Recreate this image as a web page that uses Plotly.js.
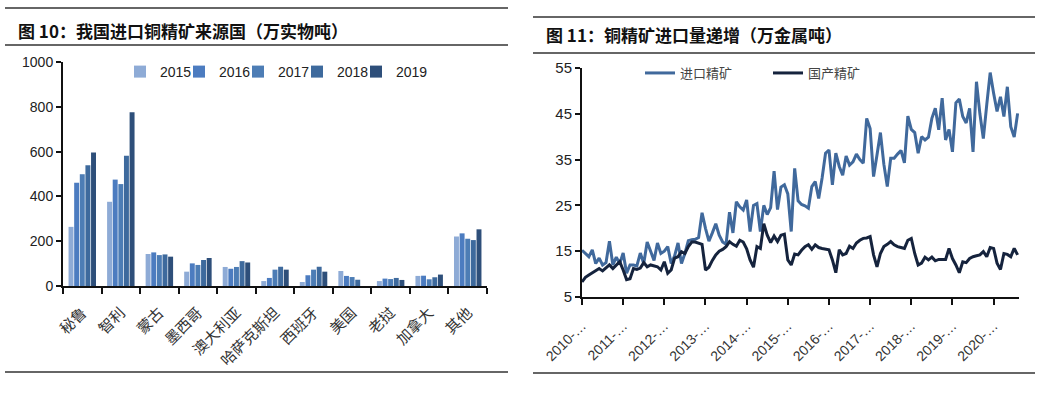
<!DOCTYPE html>
<html>
<head>
<meta charset="utf-8">
<script src="https://cdn.plot.ly/plotly-3.0.1.min.js"></script>
<style>html,body{margin:0;padding:0;background:#fff;}#chart{width:1043px;height:393px;}</style>
</head>
<body>
<div id="chart"></div>
<script>
// ---------- Figure 10 data (万实物吨) ----------
const countries = ['秘鲁','智利','蒙古','墨西哥','澳大利亚','哈萨克斯坦','西班牙','美国','老挝','加拿大','其他'];
const years = ['2015','2016','2017','2018','2019'];
const v2015 = [264,376,143,64,85,22,18,67,22,45,221];
const v2016 = [461,475,150,101,77,36,48,45,33,46,235];
const v2017 = [499,455,138,94,85,73,73,40,31,30,211];
const v2018 = [539,582,141,116,111,86,86,28,36,39,205];
const v2019 = [596,776,131,125,105,73,64,0,27,51,253];

// ---------- Figure 11 data (万金属吨), monthly 2010-01 .. 2020-08 ----------
const importConc = [
15.2,14.6,13.8,15.3,12.3,13.5,12.0,12.5,17.2,12.0,13.7,12.3,
14.6,10.2,12.0,12.0,11.8,14.6,12.3,17.0,15.0,13.0,16.8,14.5,
15.0,16.0,12.3,14.0,16.8,12.3,14.5,17.3,17.5,17.6,18.0,23.4,
20.0,17.2,19.0,21.0,18.5,17.0,16.5,23.5,19.0,25.8,24.7,24.0,
26.2,19.3,25.0,25.4,19.3,25.0,23.0,24.5,32.5,24.1,29.0,29.5,
27.5,19.3,33.1,26.0,25.2,24.9,24.4,29.1,30.2,26.5,31.0,36.4,
37.1,29.5,36.4,33.5,31.6,35.8,33.8,34.5,36.2,35.0,34.2,44.0,
41.8,31.3,36.0,40.9,34.0,29.1,35.3,35.3,36.2,37.0,34.3,44.5,
41.6,40.9,36.4,40.0,39.3,39.9,44.0,46.2,41.5,48.4,39.3,41.6,
36.7,47.4,48.2,44.4,43.0,46.2,36.7,52.0,45.0,39.6,47.0,54.0,
49.5,45.5,48.7,44.4,50.9,42.2,39.9,45.1];
const domesticConc = [
8.3,9.3,9.8,10.3,10.8,11.2,10.7,11.3,12.0,11.2,12.0,12.7,
10.9,8.8,9.0,11.2,11.0,11.3,12.5,11.6,12.0,11.8,11.6,10.9,
12.7,10.2,10.9,13.5,13.8,14.9,14.5,16.0,17.0,17.0,16.8,16.5,
10.9,11.5,13.0,14.2,15.0,15.4,16.0,17.1,16.5,16.1,17.4,17.0,
15.5,13.1,11.5,16.0,15.6,21.0,18.5,16.9,18.3,17.1,18.5,18.7,
13.1,12.0,14.4,14.2,15.2,16.0,16.4,15.4,16.4,15.8,15.6,15.5,
15.3,13.1,10.3,15.3,14.2,14.5,16.1,15.6,16.8,17.4,17.8,17.9,
18.2,14.2,11.6,14.5,16.0,16.5,17.1,16.4,16.0,15.8,15.6,17.4,
17.8,14.5,12.0,12.4,13.7,13.1,13.7,12.9,13.2,13.2,13.2,15.6,
13.4,12.0,10.3,12.7,12.5,13.4,13.8,14.0,14.2,14.9,13.8,15.8,
15.6,12.4,11.0,14.5,14.3,13.8,15.6,14.2];
const yearTicks = ['2010','2011','2012','2013','2014','2015','2016','2017','2018','2019','2020'];

// month category labels
const months = [];
for (let y = 2010; y <= 2020; y++) {
  for (let m = 1; m <= 12; m++) {
    if (months.length < importConc.length) months.push(y + '-' + String(m).padStart(2,'0'));
  }
}

const W = 1043, H = 393;
const px = x => x / W;
const py = y => 1 - y / H;

const barSeries = [v2015, v2016, v2017, v2018, v2019];
const barColors = ['#8eabd6', '#4c7cc0', '#4d7db5', '#3e6a9d', '#2e4f7a'];
const traces = barSeries.map((vals, i) => ({
  type: 'bar', x: countries, y: vals, name: years[i],
  marker: {color: barColors[i], line: {width: 0}},
  xaxis: 'x', yaxis: 'y', legend: 'legend', hoverinfo: 'none'
}));
// invisible spacer entry so the last legend label is not clipped
traces.push({
  type: 'scatter', mode: 'markers', x: [null], y: [null], name: '\u00a0',
  marker: {color: 'rgba(255,255,255,0)', size: 1, line: {width: 0, color: 'rgba(255,255,255,0)'}},
  xaxis: 'x', yaxis: 'y', legend: 'legend', hoverinfo: 'none'
});
traces.push({
  type: 'scatter', mode: 'lines', x: months, y: importConc, name: '进口精矿',
  line: {color: '#40699c', width: 3}, xaxis: 'x2', yaxis: 'y2', legend: 'legend2', hoverinfo: 'none'
});
traces.push({
  type: 'scatter', mode: 'lines', x: months, y: domesticConc, name: '国产精矿',
  line: {color: '#15233d', width: 3}, xaxis: 'x2', yaxis: 'y2', legend: 'legend2', hoverinfo: 'none'
});

const axisCommon = {
  showgrid: false, zeroline: false, showline: true, linecolor: '#111', linewidth: 2,
  ticks: 'outside', tickcolor: '#111', tickwidth: 2, fixedrange: true
};
const numFont = {family: 'Arial, "Liberation Sans", sans-serif', size: 14, color: '#222'};
const cjk = '"Noto Sans CJK SC", "Noto Sans", sans-serif';

const line = (x0, x1, y) => ({type: 'line', xref: 'paper', yref: 'paper', x0: px(x0), x1: px(x1), y0: py(y), y1: py(y), line: {color: '#333', width: 1.5}});

const layout = {
  width: W, height: H, margin: {l: 0, r: 0, t: 0, b: 0},
  paper_bgcolor: '#fff', plot_bgcolor: '#fff',
  font: numFont, showlegend: true,
  barmode: 'group', bargap: 0.27, bargroupgap: 0.12,
  xaxis: Object.assign({}, axisCommon, {
    domain: [px(63), px(487)], anchor: 'y', type: 'category', tickson: 'boundaries',
    ticklen: 6, tickangle: -45, ticklabelstandoff: 10, tickfont: {family: cjk, size: 15, color: '#333'}
  }),
  yaxis: Object.assign({}, axisCommon, {
    domain: [py(286), py(62)], anchor: 'x', range: [0, 1000], dtick: 200, ticklen: 5,
    tickfont: {family: numFont.family, size: 14, color: '#222'}
  }),
  xaxis2: Object.assign({}, axisCommon, {
    domain: [px(582), px(1019)], anchor: 'y2', type: 'category', range: [0, 127.4],
    tickmode: 'array', tickvals: yearTicks.map(y => y + '-01'), ticktext: yearTicks.map(y => y + '-…'),
    ticklen: 6, tickangle: -45, ticklabelstandoff: 7, tickfont: {family: numFont.family, size: 14, color: '#333'}
  }),
  yaxis2: Object.assign({}, axisCommon, {
    domain: [py(297), py(68)], anchor: 'x2', range: [5, 55], tick0: 5, dtick: 10, ticklen: 5,
    tickfont: {family: numFont.family, size: 15, color: '#222'}
  }),
  legend: {
    orientation: 'h', x: px(120), y: py(72), xanchor: 'left', yanchor: 'middle',
    bgcolor: 'rgba(0,0,0,0)', font: {family: numFont.family, size: 14, color: '#222'},
    entrywidth: 14, entrywidthmode: 'pixels', itemwidth: 30, traceorder: 'normal'
  },
  legend2: {
    orientation: 'h', x: px(640), y: py(73), xanchor: 'left', yanchor: 'middle',
    bgcolor: 'rgba(0,0,0,0)', font: {family: cjk, size: 13, color: '#444'},
    entrywidth: 83, entrywidthmode: 'pixels', itemwidth: 30, traceorder: 'normal'
  },
  shapes: [
    line(5, 508, 8), line(5, 508, 45), line(5, 508, 372),
    line(533, 1035, 17), line(533, 1035, 53), line(533, 1035, 373)
  ],
  annotations: [
    {xref: 'paper', yref: 'paper', x: px(16), y: py(31), xanchor: 'left', yanchor: 'middle', showarrow: false,
     text: '<b>图 10：我国进口铜精矿来源国（万实物吨）</b>', font: {family: cjk, size: 17, color: '#111'}},
    {xref: 'paper', yref: 'paper', x: px(544), y: py(34), xanchor: 'left', yanchor: 'middle', showarrow: false,
     text: '<b>图 11：铜精矿进口量递增（万金属吨）</b>', font: {family: cjk, size: 17, color: '#111'}}
  ]
};

Plotly.newPlot('chart', traces, layout, {staticPlot: true, displayModeBar: false});
</script>
</body>
</html>
